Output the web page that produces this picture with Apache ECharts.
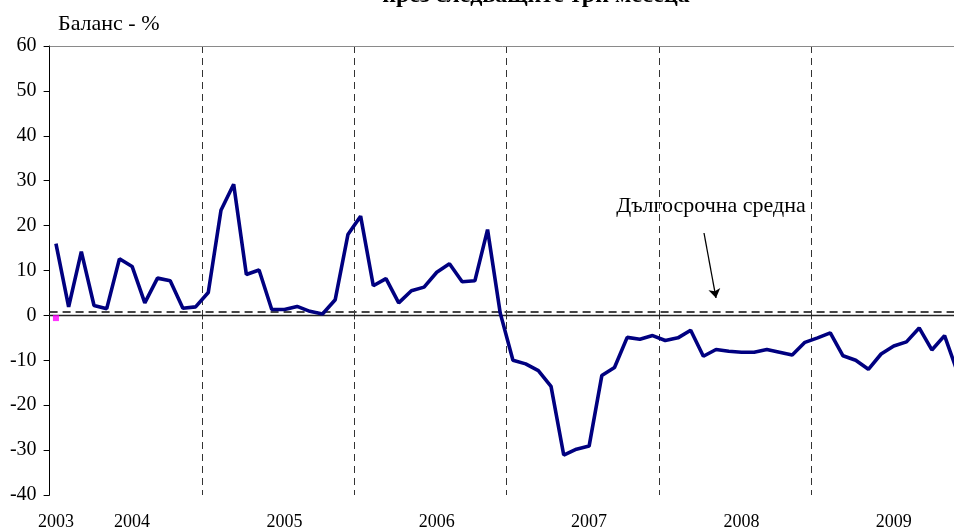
<!DOCTYPE html>
<html>
<head>
<meta charset="UTF-8">
<title>Баланс - %</title>
<script src="https://cdn.jsdelivr.net/npm/echarts@6/dist/echarts.min.js"></script>
<style>
  html, body { margin: 0; padding: 0; background: #fff; }
  #main { width: 954px; height: 531px; }
</style>
</head>
<body>
<div id="main"></div>
<script>
// месечни стойности на баланса (%)
var balance = [
  16.0, 1.9, 14.2, 2.2, 1.5, 12.6, 10.9, 2.8, 8.3, 7.7, 1.6, 1.9,
  5.1, 23.4, 29.2, 9.1, 10.1, 1.3, 1.3, 2.0, 0.9, 0.3, 3.5, 18.0,
  22.1, 6.6, 8.2, 2.8, 5.5, 6.3, 9.6, 11.5, 7.5, 7.7, 19.1, 0.5,
  -10.0, -10.8, -12.3, -15.8, -31.1, -29.8, -29.1, -13.4, -11.6, -4.9, -5.3, -4.5,
  -5.6, -5.0, -3.3, -9.1, -7.6, -8.0, -8.2, -8.2, -7.6, -8.2, -8.8, -6.0,
  -5.0, -3.9, -9.0, -10.0, -12.0, -8.6, -6.8, -5.9, -2.8, -7.7, -4.5, -12.5
];
var longTermAvg = 0.9;          // дългосрочна средна
var firstPoint = [0, -0.6];     // розовата точка
var yearLabels = ['2003', '2004', '2005', '2006', '2007', '2008', '2009'];
var yearLabelAt = [0, 6, 18, 30, 42, 54, 66];
var yearBreaks = [12, 24, 36, 48, 60];

var categories = [];
for (var i = 0; i < balance.length; i++) {
  var k = yearLabelAt.indexOf(i);
  categories.push(k >= 0 ? yearLabels[k] : String(i));
}

var serif = '"Liberation Serif", "Times New Roman", serif';
var myChart = echarts.init(document.getElementById('main'));

var option = {
  animation: false,
  // графиката продължава отвъд десния край на картинката
  grid: { left: 49.6, top: 46, bottom: 36, width: 914, containLabel: false, outerBoundsMode: 'none' },
  graphic: [
    {
      type: 'text', left: 58, top: 13,
      style: { text: 'Баланс - %', font: '22px ' + serif, fill: '#000' }
    },
    {
      type: 'text', x: 536, y: -4,
      style: { text: 'през следващите три месеца', font: 'bold 24px ' + serif,
               fill: '#000', align: 'center', verticalAlign: 'middle' }
    },
    {
      type: 'text', x: 711, y: 206,
      style: { text: 'Дългосрочна средна', font: '22px ' + serif,
               fill: '#000', align: 'center', verticalAlign: 'middle' }
    }
  ],
  xAxis: {
    type: 'category',
    data: categories,
    boundaryGap: true,
    axisLine: { show: true, lineStyle: { color: '#8a8a8a', width: 1 } },
    axisTick: {
      show: true, length: 4, inside: false,
      interval: function (idx) { return yearBreaks.indexOf(idx) >= 0; },
      lineStyle: { color: '#333' }
    },
    axisLabel: {
      interval: function (idx) { return yearLabelAt.indexOf(idx) >= 0; },
      color: '#000', fontFamily: serif, fontSize: 18, margin: 18
    },
    splitLine: {
      show: true,
      interval: function (idx) { return yearBreaks.indexOf(idx) >= 0; },
      lineStyle: { color: '#333', width: 1, type: [7, 5] }
    }
  },
  yAxis: {
    type: 'value',
    min: -40, max: 60, interval: 10,
    axisLine: { show: true, lineStyle: { color: '#000', width: 1 } },
    axisTick: { show: true, length: 6, inside: false, lineStyle: { color: '#000' } },
    axisLabel: { color: '#000', fontFamily: serif, fontSize: 20, margin: 13 },
    splitLine: { show: false }
  },
  series: [
    {
      name: 'Баланс',
      type: 'line',
      data: balance,
      symbol: 'none',
      lineStyle: { color: '#000080', width: 3.6 },
      z: 5,
      markLine: {
        silent: true,
        symbol: 'none',
        label: { show: false },
        animation: false,
        data: [
          { yAxis: 60, lineStyle: { color: '#8a8a8a', width: 1, type: 'solid' } },
          { yAxis: 0, lineStyle: { color: '#222', width: 1.3, type: 'solid' } },
          { yAxis: longTermAvg, lineStyle: { color: '#444', width: 2, type: [8, 5] } },
          [
            { x: 704, y: 233, symbol: 'none',
              lineStyle: { color: '#000', width: 1.3, type: 'solid' },
              itemStyle: { color: '#000' } },
            { x: 716, y: 298, symbol: 'arrow', symbolSize: 9,
              itemStyle: { color: '#000' } }
          ]
        ]
      }
    },
    {
      name: 'first',
      type: 'scatter',
      data: [firstPoint],
      symbol: 'rect',
      symbolSize: 6,
      itemStyle: { color: '#ff00ff' },
      z: 6
    }
  ]
};

myChart.setOption(option);
</script>
</body>
</html>
